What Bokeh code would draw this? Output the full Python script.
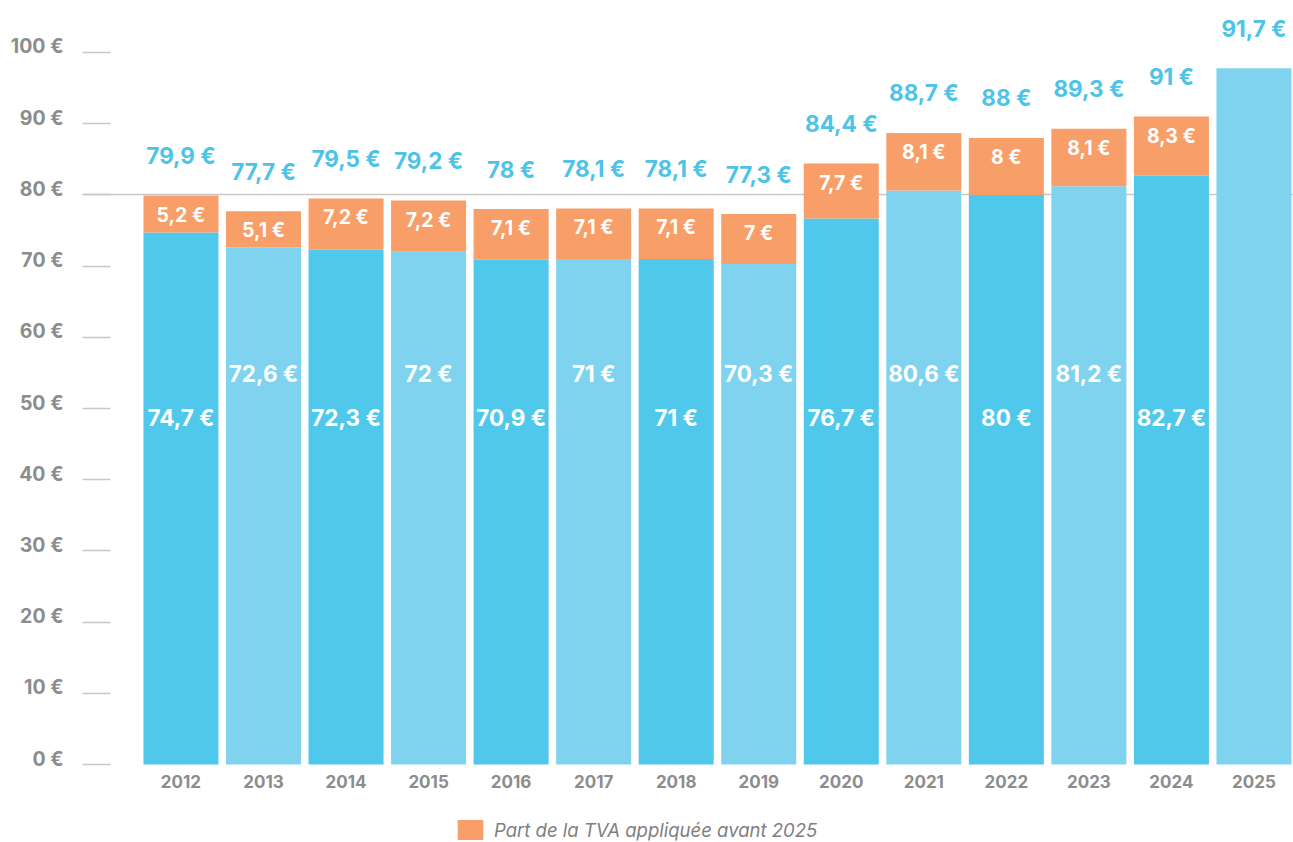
from bokeh.plotting import figure
from bokeh.models import (ColumnDataSource, Range1d, FixedTicker, PrintfTickFormatter,
                          Legend, LegendItem, LinearAxis)
from bokeh.core.properties import value
from bokeh.embed import file_html
from bokeh.resources import INLINE

# ---- data ----
years = ["2012", "2013", "2014", "2015", "2016", "2017", "2018",
         "2019", "2020", "2021", "2022", "2023", "2024", "2025"]
base = [74.7, 72.6, 72.3, 72.0, 70.9, 71.0, 71.0, 70.3, 76.7, 80.6, 80.0, 81.2, 82.7, 97.8]
tva = [5.2, 5.1, 7.2, 7.2, 7.1, 7.1, 7.1, 7.0, 7.7, 8.1, 8.0, 8.1, 8.3, 0.0]
totals = [79.9, 77.7, 79.5, 79.2, 78.0, 78.1, 78.1, 77.3, 84.4, 88.7, 88.0, 89.3, 91.0, 91.7]
show_base_label = [True] * 13 + [False]
y_ticks = [0, 10, 20, 30, 40, 50, 60, 70, 80, 90, 100]
legend_label = "Part de la TVA appliquée avant 2025"

DARK = "#50C8EB"
LIGHT = "#80D3EE"
ORANGE = "#F79E69"
LBLUE = "#4DC3E8"
GREY = "#8C8C8C"
TICKGREY = "#C8C8C8"
FONT = "Inter"


def fmt(v):
    s = f"{v:g}".replace(".", ",")
    return s + " €"


n = len(years)
xs = list(range(n))
tops = [b + t for b, t in zip(base, tva)]
colors = [DARK if i % 2 == 0 else LIGHT for i in range(n)]

Y0, Y1 = -10.955, 107.3
LAB_SHIFT = 0.84  # tick labels sit slightly above their tick marks

p = figure(width=1293, height=842, output_backend="svg", toolbar_location=None,
           x_range=Range1d(-1.193, 13.479), y_range=Range1d(Y0, Y1),
           min_border_left=82, min_border_right=0, min_border_top=0, min_border_bottom=0)
p.extra_y_ranges = {"lab": Range1d(Y0 - LAB_SHIFT, Y1 - LAB_SHIFT)}
p.outline_line_color = None
p.background_fill_color = "white"
p.border_fill_color = "white"

# grid: only the 80 line
p.xgrid.visible = False
p.ygrid.ticker = FixedTicker(ticks=[80])
p.ygrid.grid_line_color = TICKGREY
p.ygrid.grid_line_width = 1.5

BW = 0.909
src_base = ColumnDataSource(dict(x=xs, top=base, color=colors))
p.vbar(x="x", top="top", bottom=0, width=BW, fill_color="color", line_color=None,
       source=src_base)

ox = [x for x, t in zip(xs, tva) if t > 0]
ob = [b for b, t in zip(base, tva) if t > 0]
ot = [b + t for b, t in zip(base, tva) if t > 0]
src_tva = ColumnDataSource(dict(x=ox, bottom=ob, top=ot,
                                lab=[fmt(t) for t in tva if t > 0]))
r_tva = p.vbar(x="x", top="top", bottom="bottom", width=BW, fill_color=ORANGE,
               line_color=None, source=src_tva)

# labels in orange segments
p.text(x="x", y="top", text="lab", source=src_tva, y_offset=19,
       text_align="center", text_baseline="middle", text_color="white",
       text_font=value(FONT), text_font_style="bold", text_font_size="19.5px")

# total labels above bars
src_tot = ColumnDataSource(dict(x=xs, y=tops, lab=[fmt(v) for v in totals]))
p.text(x="x", y="y", text="lab", source=src_tot, y_offset=-40,
       text_align="center", text_baseline="middle", text_color=LBLUE,
       text_font=value(FONT), text_font_style="bold", text_font_size="22.5px")

# labels inside blue parts (alternating heights)
bx = [x for x, s in zip(xs, show_base_label) if s]
by = [48.7 if x % 2 == 0 else 54.9 for x in bx]
blab = [fmt(base[x]) for x in bx]
src_bl = ColumnDataSource(dict(x=bx, y=by, lab=blab))
p.text(x="x", y="y", text="lab", source=src_bl,
       text_align="center", text_baseline="middle", text_color="white",
       text_font=value(FONT), text_font_style="bold", text_font_size="22.5px")

# year labels under the bars
src_yr = ColumnDataSource(dict(x=xs, y=[0] * n, lab=years))
p.text(x="x", y="y", text="lab", source=src_yr, y_offset=17,
       text_align="center", text_baseline="middle", text_color=GREY,
       text_font=value(FONT), text_font_style="bold", text_font_size="17px")

# main y axis: tick marks only
p.yaxis.ticker = FixedTicker(ticks=y_ticks)
p.yaxis.axis_line_color = None
p.yaxis.major_tick_in = 28
p.yaxis.major_tick_out = 0
p.yaxis.minor_tick_line_color = None
p.yaxis.major_tick_line_color = TICKGREY
p.yaxis.major_tick_line_width = 1.5
p.yaxis.major_label_standoff = 0
p.yaxis.major_label_overrides = {t: "" for t in y_ticks}

# label axis (slightly raised)
lab_axis = LinearAxis(y_range_name="lab", ticker=FixedTicker(ticks=y_ticks),
                      formatter=PrintfTickFormatter(format="%d €"))
lab_axis.axis_line_color = None
lab_axis.major_tick_line_color = None
lab_axis.minor_tick_line_color = None
lab_axis.major_tick_in = 0
lab_axis.major_tick_out = 0
lab_axis.major_label_standoff = 19
lab_axis.major_label_text_font = FONT
lab_axis.major_label_text_font_style = "bold"
lab_axis.major_label_text_font_size = "19.5px"
lab_axis.major_label_text_color = GREY
p.add_layout(lab_axis, "left")

p.xaxis.visible = False

legend = Legend(items=[LegendItem(label=legend_label, renderers=[r_tva])],
                location=(372, 0), orientation="horizontal",
                border_line_color=None, background_fill_alpha=0,
                glyph_width=32, glyph_height=25, padding=0, margin=0,
                label_text_font=FONT, label_text_font_style="italic",
                label_text_font_size="18.5px", label_text_color="#7F7F7F",
                label_standoff=8)
p.add_layout(legend, "center")

open("out.html", "w").write(file_html(p, INLINE))
